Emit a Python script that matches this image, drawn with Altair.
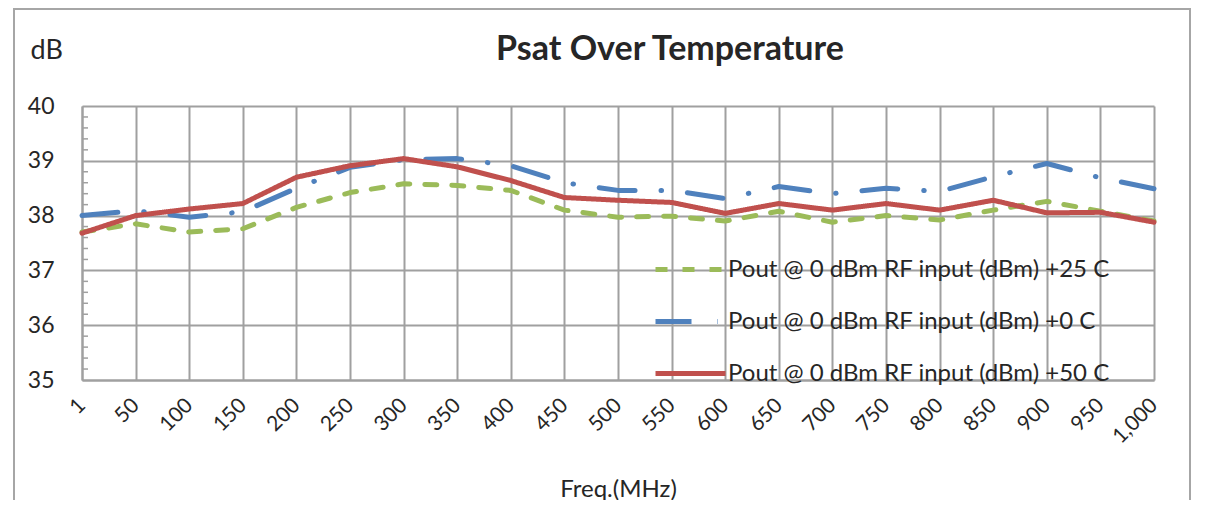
import altair as alt
import pandas as pd

freq_labels = ["1", "50", "100", "150", "200", "250", "300", "350", "400", "450", "500",
               "550", "600", "650", "700", "750", "800", "850", "900", "950", "1,000"]

series_names = [
    "Pout @ 0 dBm RF input (dBm) +25 C",
    "Pout @ 0 dBm RF input (dBm) +0 C",
    "Pout @ 0 dBm RF input (dBm) +50 C",
]
s25 = [37.70, 37.85, 37.70, 37.76, 38.15, 38.42, 38.58, 38.55, 38.46, 38.10, 37.97,
       37.99, 37.90, 38.08, 37.88, 38.00, 37.92, 38.10, 38.26, 38.08, 37.90]
s0 = [38.00, 38.09, 37.97, 38.07, 38.50, 38.88, 39.02, 39.04, 38.91, 38.60, 38.46,
      38.46, 38.31, 38.53, 38.40, 38.50, 38.44, 38.71, 38.95, 38.69, 38.49]
s50 = [37.68, 38.00, 38.12, 38.22, 38.70, 38.91, 39.04, 38.89, 38.64, 38.33, 38.28,
       38.24, 38.04, 38.22, 38.10, 38.22, 38.10, 38.28, 38.05, 38.06, 37.88]

y_major = [35, 36, 37, 38, 39, 40]
y_minor = [35.2, 35.4, 35.6, 35.8, 36.2, 36.4, 36.6, 36.8, 37.2, 37.4, 37.6, 37.8,
           38.2, 38.4, 38.6, 38.8, 39.2, 39.4, 39.6, 39.8]

series_colors = ["#9BBB59", "#4F81BD", "#C0504D"]
series_dashes = [[12, 15], [36, 26, 0.5, 26], [1, 0]]

rows = []
for name, vals in zip(series_names, [s25, s0, s50]):
    for f, v in zip(freq_labels, vals):
        rows.append({"freq": f, "series": name, "value": v})
df = pd.DataFrame(rows)
minor_df = pd.DataFrame({"value": y_minor})

FONT = "Lato"
TXT = "#262626"
GRID = "#A0A0A0"
W, H = 1072, 274

y_enc = alt.Y(
    "value:Q",
    scale=alt.Scale(domain=[35, 40], nice=False, zero=False),
    axis=alt.Axis(
        values=y_major, title="dB", titleAngle=0, titleX=-52, titleY=-56,
        titleAlign="left", titleBaseline="middle", titleFontSize=27,
        titleFontWeight="normal", titleFont=FONT, titleColor=TXT,
        labelFont=FONT, labelFontSize=23, labelColor=TXT, labelPadding=28,
        ticks=False, grid=True, gridColor=GRID, gridWidth=2,
        domainColor=GRID, domainWidth=2,
    ),
)

x_enc = alt.X(
    "freq:O", sort=freq_labels,
    scale=alt.Scale(type="point", padding=0),
    axis=alt.Axis(
        title="Freq.(MHz)", titleFont=FONT, titleFontSize=24, titleFontWeight="normal",
        titleColor=TXT, titleY=116, titleBaseline="alphabetic",
        labelAngle=315, labelAlign="right", labelBaseline="middle",
        labelFont=FONT, labelFontSize=21, labelColor=TXT, labelPadding=22,
        ticks=False, grid=True, gridColor=GRID, gridWidth=2,
        domainColor=GRID, domainWidth=2,
    ),
)

leg = alt.Legend(
    title=None, orient="none", legendX=571, legendY=126, padding=0,
    symbolType="stroke", symbolSize=4900, symbolStrokeWidth=5,
    labelFont=FONT, labelFontSize=24, labelColor=TXT, labelOffset=0,
    labelLimit=0, rowPadding=2,
)

border = alt.Chart(pd.DataFrame({"k": [0]})).mark_rect(
    fill="white", fillOpacity=0, stroke="#A6A6A6", strokeWidth=2
).encode(
    x=alt.value(-68), x2=alt.value(W + 36), y=alt.value(-97), y2=alt.value(H + 200)
)

minor = alt.Chart(minor_df).mark_rule(color=GRID, strokeWidth=1.5).encode(
    y=y_enc, x=alt.value(0), x2=alt.value(6)
)

lines = alt.Chart(df).mark_line(strokeWidth=5, strokeCap="round", strokeJoin="round").encode(
    x=x_enc,
    y=y_enc,
    color=alt.Color("series:N", scale=alt.Scale(domain=series_names, range=series_colors), legend=leg),
    strokeDash=alt.StrokeDash("series:N", scale=alt.Scale(domain=series_names, range=series_dashes), legend=leg),
)

chart = alt.layer(border, minor, lines).properties(
    width=W, height=H,
    title=alt.TitleParams(
        "Psat Over Temperature", font=FONT, fontSize=34, fontWeight="bold", color=TXT,
        anchor="middle", frame="group", dx=52, offset=-86, baseline="alphabetic",
    ),
    padding={"left": 74, "top": 98, "right": 38, "bottom": 120},
    autosize=alt.AutoSizeParams(type="none"),
    background="white",
).configure_view(strokeWidth=0)

chart.save("out.html", embed_options={"renderer": "svg", "actions": False})
